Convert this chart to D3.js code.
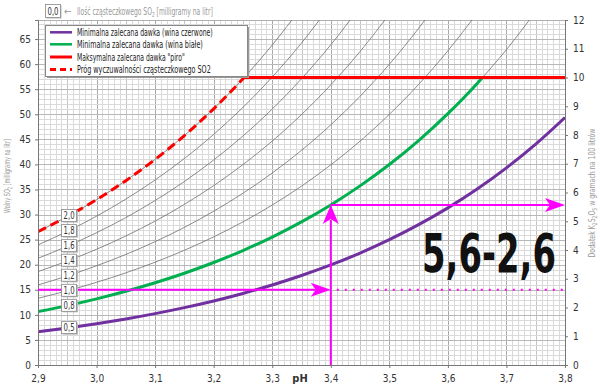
<!DOCTYPE html>
<html><head><meta charset="utf-8">
<script src="https://cdn.jsdelivr.net/npm/d3@7/dist/d3.min.js"></script>
<style>
body{margin:0;background:#fff;}
svg{display:block;}
text{font-family:"Liberation Sans Narrow","Arial Narrow","DejaVu Sans Condensed",sans-serif;}
</style></head>
<body><svg id="c" width="600" height="392"></svg>
<script>
// ---------- data ----------
const pH = [2.90,2.95,3.00,3.05,3.10,3.15,3.20,3.25,3.30,3.35,3.40,3.45,3.50,3.55,3.60,3.65,3.70,3.75,3.80];
const molecularLevels = [0.5,0.8,1.0,1.2,1.4,1.6,1.8,2.0];
const free05 = [6.65,7.40,8.24,9.19,10.25,11.44,12.77,14.27,15.95,17.84,19.95,22.33,24.99,27.98,31.33,35.09,39.31,44.05,49.36];
const free08 = [10.64,11.84,13.19,14.70,16.40,18.30,20.44,22.83,25.52,28.54,31.92,35.72,39.98,44.76,50.13,56.15,62.90,70.48];
const free10 = [13.30,14.80,16.49,18.38,20.50,22.88,25.55,28.54,31.90,35.67,39.91,44.65,49.98,55.95,62.66,70.18];
const free12 = [15.96,17.76,19.79,22.05,24.60,27.45,30.66,34.25,38.28,42.81,47.89,53.58,59.97,67.14,75.19];
const free14 = [18.62,20.73,23.08,25.73,28.70,32.03,35.77,39.96,44.66,49.94,55.87,62.51,69.97];
const free16 = [21.28,23.69,26.38,29.40,32.80,36.60,40.88,45.67,51.04,57.08,63.85,71.44];
const free18 = [23.95,26.65,29.68,33.08,36.90,41.18,45.98,51.38,57.43,64.21,71.83];
const free20 = [26.61,29.61,32.98,36.76,41.00,45.76,51.09,57.08,63.81,71.35];
const labelPH = 2.953;
const labelFree = [7.45,11.9,14.9,17.9,20.9,23.8,26.8,29.8];
const maxDoseRight = 10;          // g/100 l  (red line)
const maxDoseFree = 57.33;        // mg/l
const redEndPH = 3.252;
const greenEndPH = 3.659;
const examplePH = 3.40;
const exampleHigh = 31.92;        // mg/l (green at pH 3.4)
const exampleLow = 15.0;          // mg/l
const xTicks = [2.9,3.0,3.1,3.2,3.3,3.4,3.5,3.6,3.7,3.8];
const yLeftTicks = [0,5,10,15,20,25,30,35,40,45,50,55,60,65];
const yRightTicks = [0,1,2,3,4,5,6,7,8,9,10,11,12];
const legendItems = ["Minimalna zalecana dawka (wina czerwone)","Minimalna zalecana dawka (wina białe)","Maksymalna zalecana dawka \"piro\"","Próg wyczuwalności cząsteczkowego SO2"];
const bigLabel = "5,6-2,6";

// ---------- layout ----------
const L=38,R=565,T=20,B=365;
const svg=d3.select("#c");
const x=d3.scaleLinear().domain([2.9,3.8]).range([L,R]);
const yL=d3.scaleLinear().domain([0,68.8]).range([B,T]);
const yR=d3.scaleLinear().domain([0,12]).range([B,T]);
const fmt=d=>d3.format(".1f")(d).replace(".",",");
const PURPLE="#7030a0",GREEN="#00b050",RED="#ff0000",MAG="#ff00ff";

// squeeze a text horizontally (along its own direction) to a target width
function fit(sel, base, w){
  const n=sel.node().getComputedTextLength();
  sel.attr("transform", base+` scale(${w/n},1)`);
}

// grid
const g=svg.append("g").attr("shape-rendering","crispEdges");
d3.range(0,91).forEach(i=>{
  const v=2.9+i*0.01;
  g.append("line").attr("x1",Math.round(x(v))+0.5).attr("x2",Math.round(x(v))+0.5).attr("y1",T).attr("y2",B)
   .attr("stroke", i%10===0?"#a8a8a8":(i%5===0?"#c4c4c4":"#dadada")).attr("stroke-width",1);
});
d3.range(0,69).forEach(i=>{
  g.append("line").attr("y1",Math.round(yL(i))+0.5).attr("y2",Math.round(yL(i))+0.5).attr("x1",L).attr("x2",R)
   .attr("stroke", i%5===0?"#b8b8b8":"#dadada").attr("stroke-width",1);
});
g.append("rect").attr("x",L+0.5).attr("y",T+0.5).attr("width",R-L).attr("height",B-T).attr("fill","none").attr("stroke","#b0b0b0");

// clip
svg.append("clipPath").attr("id","clip").append("rect").attr("x",L).attr("y",T).attr("width",R-L).attr("height",B-T);
const plot=svg.append("g").attr("clip-path","url(#clip)");

const line=d3.line().x(d=>x(d[0])).y(d=>yL(d[1])).curve(d3.curveMonotoneX);
const series=[free05,free08,free10,free12,free14,free16,free18,free20];
series.forEach(s=>{
  plot.append("path").attr("d",line(s.map((v,i)=>[pH[i],v]))).attr("fill","none").attr("stroke","#6e6e6e").attr("stroke-width",0.8);
});

// coloured curves
const purplePts=free05.map((v,i)=>[pH[i],v]);
const greenPts=free08.map((v,i)=>[pH[i],v]).filter(d=>d[1]<=maxDoseFree).concat([[greenEndPH,maxDoseFree]]);
const redPts=free20.map((v,i)=>[pH[i],v]).filter(d=>d[1]<=maxDoseFree).concat([[redEndPH,maxDoseFree]]);
plot.append("path").attr("d",line(purplePts)).attr("fill","none").attr("stroke",PURPLE).attr("stroke-width",3);
plot.append("path").attr("d",line(greenPts)).attr("fill","none").attr("stroke",GREEN).attr("stroke-width",3);
plot.append("path").attr("d",line(redPts)).attr("fill","none").attr("stroke",RED).attr("stroke-width",3).attr("stroke-dasharray","9,5");
plot.append("line").attr("x1",x(redEndPH)).attr("x2",R).attr("y1",yR(maxDoseRight)).attr("y2",yR(maxDoseRight)).attr("stroke",RED).attr("stroke-width",3);

// axes
const axL=svg.append("g").attr("transform",`translate(${L},0)`).call(d3.axisLeft(yL).tickValues(yLeftTicks).tickSize(3).tickPadding(4).tickFormat(d3.format("d")));
const axR=svg.append("g").attr("transform",`translate(${R},0)`).call(d3.axisRight(yR).tickValues(yRightTicks).tickSize(3).tickPadding(5).tickFormat(d3.format("d")));
const axB=svg.append("g").attr("transform",`translate(0,${B})`).call(d3.axisBottom(x).tickValues(xTicks).tickSize(3).tickPadding(7).tickFormat(fmt));
[axL,axR,axB].forEach(a=>{a.select(".domain").attr("stroke","#777");a.selectAll(".tick line").attr("stroke","#777");a.selectAll("text").attr("fill","#333").style("font-size","10px");});
svg.append("text").attr("x",300).attr("y",382).attr("text-anchor","middle").attr("fill","#333").style("font-size","11px").style("font-weight","bold").text("pH");

// axis titles
const lt=svg.append("text").attr("text-anchor","middle").attr("fill","#999").style("font-size","8.5px");
lt.append("tspan").text("Wolny SO");
lt.append("tspan").attr("dy",2).style("font-size","6px").text("2");
lt.append("tspan").attr("dy",-2).text(" [milligramy na litr]");
fit(lt,"translate(10,176) rotate(-90)",74);
const rt=svg.append("text").attr("text-anchor","middle").attr("fill","#999").style("font-size","9px");
rt.append("tspan").text("Dodatek K");
rt.append("tspan").attr("dy",2).style("font-size","6.5px").text("2");
rt.append("tspan").attr("dy",-2).text("S");
rt.append("tspan").attr("dy",2).style("font-size","6.5px").text("2");
rt.append("tspan").attr("dy",-2).text("O");
rt.append("tspan").attr("dy",2).style("font-size","6.5px").text("5");
rt.append("tspan").attr("dy",-2).text(" w gramach na 100 litrów");
fit(rt,"translate(595,193) rotate(-90)",129);

// magenta arrows
const arr=svg.append("g");
const xe=x(examplePH), yh=yL(exampleHigh), yl=yL(exampleLow);
arr.append("line").attr("x1",xe).attr("x2",xe).attr("y1",B).attr("y2",yh+15).attr("stroke",MAG).attr("stroke-width",2);
arr.append("path").attr("d",`M${xe},${yh} L${xe-8},${yh+19} L${xe},${yh+14} L${xe+8},${yh+19} Z`).attr("fill",MAG);
arr.append("line").attr("x1",xe).attr("x2",R-15).attr("y1",yh).attr("y2",yh).attr("stroke",MAG).attr("stroke-width",2);
arr.append("path").attr("d",`M${R},${yh} L${R-20},${yh-7} L${R-15},${yh} L${R-20},${yh+7} Z`).attr("fill",MAG);
arr.append("line").attr("x1",L).attr("x2",xe-15).attr("y1",yl).attr("y2",yl).attr("stroke",MAG).attr("stroke-width",2);
arr.append("path").attr("d",`M${xe},${yl} L${xe-20},${yl-7} L${xe-15},${yl} L${xe-20},${yl+7} Z`).attr("fill",MAG);
arr.append("line").attr("x1",xe+6).attr("x2",R).attr("y1",yl).attr("y2",yl).attr("stroke",MAG).attr("stroke-width",2).attr("stroke-dasharray","2,6");

// curve labels
molecularLevels.forEach((m,i)=>{
  const cx=x(labelPH), cy=yL(labelFree[i]);
  svg.append("rect").attr("x",cx-6).attr("y",cy-5).attr("width",15).attr("height",12).attr("fill","#bbb");
  svg.append("rect").attr("x",cx-7.5).attr("y",cy-6).attr("width",15).attr("height",12).attr("fill","#fff").attr("stroke","#888").attr("stroke-width",0.8);
  const t=svg.append("text").attr("text-anchor","middle").attr("fill","#333").style("font-size","10px").text(fmt(m));
  fit(t,`translate(${cx},${cy+3.5})`,11);
});

// top note
svg.append("rect").attr("x",46.5).attr("y",5.5).attr("width",15).attr("height",13).attr("fill","#bbb");
svg.append("rect").attr("x",45.5).attr("y",4.5).attr("width",15).attr("height",13).attr("fill","#fff").attr("stroke","#888").attr("stroke-width",0.8);
const zt=svg.append("text").attr("text-anchor","middle").attr("fill","#333").style("font-size","10px").text("0,0");
fit(zt,"translate(53,14.5)",11);
svg.append("text").attr("x",64).attr("y",14.5).attr("fill","#999").style("font-size","10px").text("←");
const tt=svg.append("text").attr("fill","#999").style("font-size","10px");
tt.append("tspan").text("Ilość cząsteczkowego SO");
tt.append("tspan").attr("dy",2).style("font-size","7px").text("2");
tt.append("tspan").attr("dy",-2).text(" [milligramy na litr]");
fit(tt,"translate(77,14.5)",136);

// legend
svg.append("rect").attr("x",47).attr("y",27).attr("width",202).attr("height",51).attr("fill","#999");
svg.append("rect").attr("x",45.5).attr("y",25.5).attr("width",202).attr("height",51).attr("fill","#fff").attr("stroke","#888");
const legY=[32.3,44.3,57,69.5];
const legW=[136,126,108,134];
const legStyle=[{c:PURPLE,w:2.5,d:null},{c:GREEN,w:2.5,d:null},{c:RED,w:3,d:null},{c:RED,w:3,d:"6,4"}];
legendItems.forEach((t,i)=>{
  svg.append("line").attr("x1",50).attr("x2",72).attr("y1",legY[i]).attr("y2",legY[i]).attr("stroke",legStyle[i].c).attr("stroke-width",legStyle[i].w).attr("stroke-dasharray",legStyle[i].d);
  const tx=svg.append("text").attr("fill","#222").style("font-size","10px").text(t);
  fit(tx,`translate(77,${legY[i]+3.5})`,legW[i]);
});

// big label
const bl=svg.append("text").attr("fill","#111")
  .style("font-family","'DejaVu Sans Condensed','DejaVu Sans',sans-serif").style("font-weight","bold").style("font-size","53px")
  .text(bigLabel);
fit(bl,"translate(422,272)",134);
</script></body></html>
